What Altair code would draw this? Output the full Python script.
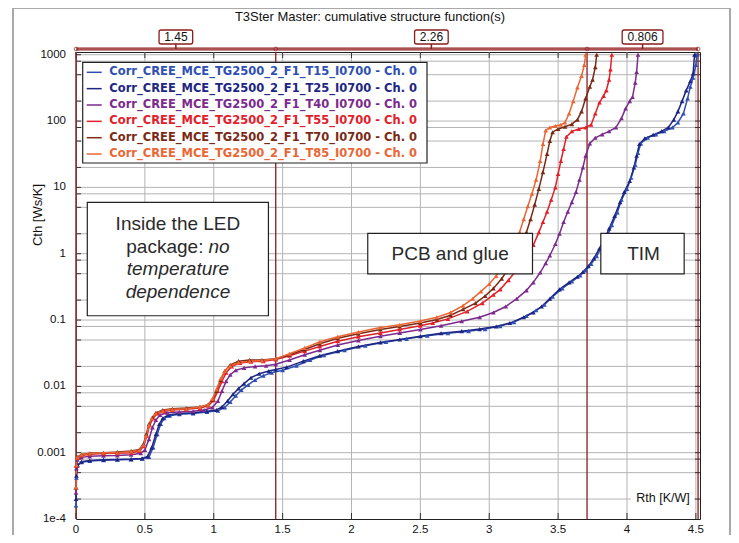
import altair as alt
import pandas as pd

# ---------------- data ----------------
series_names = [
    "Corr_CREE_MCE_TG2500_2_F1_T15_I0700 - Ch. 0",
    "Corr_CREE_MCE_TG2500_2_F1_T25_I0700 - Ch. 0",
    "Corr_CREE_MCE_TG2500_2_F1_T40_I0700 - Ch. 0",
    "Corr_CREE_MCE_TG2500_2_F1_T55_I0700 - Ch. 0",
    "Corr_CREE_MCE_TG2500_2_F1_T70_I0700 - Ch. 0",
    "Corr_CREE_MCE_TG2500_2_F1_T85_I0700 - Ch. 0",
]
series_colors = ["#2f4fb2", "#1d2682", "#7b2a8e", "#e2202a", "#7a2a14", "#ea6634"]

# (Rth [K/W], Cth [Ws/K]) pairs
t15 = [(0.0,1.6e-4),(0.003,4.2e-4),(0.01,6.3e-4),(0.04,7.2e-4),(0.1,7.5e-4),(0.2,7.7e-4),(0.3,7.8e-4),(0.4,7.9e-4),(0.48,8.1e-4),(0.53,8.6e-4),(0.56,1.2e-3),(0.59,1.9e-3),(0.615,2.7e-3),(0.64,3.3e-3),(0.68,3.6e-3),(0.75,3.8e-3),(0.85,3.9e-3),(0.95,4.1e-3),(1.03,4.3e-3),(1.08,4.8e-3),(1.12,5.8e-3),(1.16,7.2e-3),(1.2,8.8e-3),(1.25,1.05e-2),(1.3,1.25e-2),(1.36,1.45e-2),(1.42,1.6e-2),(1.5,1.75e-2),(1.6,2.05e-2),(1.7,2.5e-2),(1.8,2.95e-2),(1.95,3.5e-2),(2.1,4.1e-2),(2.25,4.65e-2),(2.4,5.2e-2),(2.55,5.8e-2),(2.7,6.3e-2),(2.85,6.8e-2),(2.97,7.3e-2),(3.08,8.1e-2),(3.18,9.3e-2),(3.27,0.115),(3.34,0.14),(3.4,0.17),(3.46,0.225),(3.53,0.3),(3.6,0.38),(3.66,0.47),(3.7,0.56),(3.74,0.7),(3.78,0.92),(3.82,1.3),(3.86,1.9),(3.89,2.7),(3.93,4.2),(3.96,6.5),(4.0,9.5),(4.03,14),(4.06,22),(4.08,33),(4.1,46),(4.15,56),(4.21,63),(4.27,70),(4.33,80),(4.37,95),(4.41,130),(4.44,220),(4.46,330),(4.48,450),(4.5,700),(4.51,1000)]
t25 = [(0.0,2.0e-4),(0.003,4.5e-4),(0.01,6.5e-4),(0.04,7.3e-4),(0.1,7.6e-4),(0.2,7.8e-4),(0.3,7.9e-4),(0.4,8.0e-4),(0.48,8.2e-4),(0.52,8.8e-4),(0.55,1.2e-3),(0.58,1.9e-3),(0.605,2.7e-3),(0.63,3.3e-3),(0.67,3.7e-3),(0.75,3.9e-3),(0.85,4.0e-3),(0.95,4.2e-3),(1.02,4.4e-3),(1.06,4.9e-3),(1.1,6.0e-3),(1.14,7.6e-3),(1.18,9.3e-3),(1.22,1.1e-2),(1.27,1.35e-2),(1.33,1.55e-2),(1.4,1.7e-2),(1.45,1.8e-2),(1.53,1.95e-2),(1.65,2.4e-2),(1.77,2.9e-2),(1.9,3.4e-2),(2.05,4.0e-2),(2.21,4.6e-2),(2.35,5.1e-2),(2.5,5.7e-2),(2.65,6.3e-2),(2.8,6.8e-2),(2.93,7.3e-2),(3.05,8.0e-2),(3.15,9.0e-2),(3.25,0.11),(3.32,0.13),(3.38,0.16),(3.44,0.21),(3.51,0.29),(3.58,0.37),(3.64,0.45),(3.68,0.53),(3.72,0.65),(3.76,0.85),(3.8,1.2),(3.84,1.7),(3.87,2.4),(3.91,3.7),(3.95,6.0),(3.98,8.5),(4.02,12.5),(4.05,20),(4.07,30),(4.09,45),(4.13,55),(4.19,62),(4.25,70),(4.3,80),(4.34,105),(4.37,140),(4.4,200),(4.43,290),(4.46,400),(4.48,520),(4.49,1000)]
t40 = [(0.0,2.5e-4),(0.003,5.8e-4),(0.01,7.8e-4),(0.04,8.5e-4),(0.1,8.8e-4),(0.2,9.0e-4),(0.3,9.1e-4),(0.4,9.3e-4),(0.47,9.8e-4),(0.5,1.1e-3),(0.53,1.6e-3),(0.555,2.4e-3),(0.58,3.1e-3),(0.61,3.7e-3),(0.66,4.0e-3),(0.75,4.1e-3),(0.85,4.2e-3),(0.93,4.4e-3),(0.99,4.8e-3),(1.03,6.0e-3),(1.06,8.5e-3),(1.09,1.2e-2),(1.12,1.5e-2),(1.16,1.75e-2),(1.22,1.9e-2),(1.3,2.0e-2),(1.38,2.05e-2),(1.45,2.15e-2),(1.55,2.5e-2),(1.66,3.0e-2),(1.77,3.5e-2),(1.9,4.2e-2),(2.05,4.9e-2),(2.21,5.7e-2),(2.35,6.4e-2),(2.5,7.2e-2),(2.65,8.2e-2),(2.8,9.6e-2),(2.93,0.11),(3.03,0.13),(3.12,0.16),(3.2,0.21),(3.27,0.28),(3.32,0.37),(3.37,0.52),(3.41,0.72),(3.44,0.94),(3.48,1.4),(3.51,2.0),(3.54,3.0),(3.57,4.3),(3.6,6.0),(3.63,8.5),(3.655,13),(3.68,20),(3.7,30),(3.73,46),(3.77,56),(3.82,63),(3.87,70),(3.92,80),(3.96,110),(3.99,155),(4.02,200),(4.04,230),(4.06,380),(4.07,550),(4.08,1000)]
t55 = [(0.0,3.0e-4),(0.003,6.3e-4),(0.01,8.3e-4),(0.04,9.1e-4),(0.1,9.5e-4),(0.2,9.7e-4),(0.3,9.8e-4),(0.4,1.0e-3),(0.46,1.06e-3),(0.49,1.25e-3),(0.515,1.8e-3),(0.535,2.6e-3),(0.56,3.3e-3),(0.59,3.9e-3),(0.64,4.2e-3),(0.7,4.4e-3),(0.8,4.5e-3),(0.9,4.7e-3),(0.96,5.1e-3),(1.0,6.2e-3),(1.03,8.5e-3),(1.06,1.2e-2),(1.09,1.6e-2),(1.13,2.0e-2),(1.19,2.25e-2),(1.27,2.35e-2),(1.36,2.4e-2),(1.45,2.55e-2),(1.55,2.9e-2),(1.66,3.4e-2),(1.77,4.0e-2),(1.9,4.8e-2),(2.05,5.6e-2),(2.21,6.4e-2),(2.35,7.2e-2),(2.5,8.2e-2),(2.59,9.0e-2),(2.7,0.104),(2.84,0.135),(2.95,0.18),(3.03,0.24),(3.08,0.29),(3.14,0.4),(3.19,0.54),(3.24,0.75),(3.28,1.0),(3.32,1.35),(3.36,2.1),(3.39,3.0),(3.42,4.3),(3.45,6.5),(3.48,10),(3.5,16),(3.52,25),(3.54,38),(3.56,58),(3.6,70),(3.65,76),(3.7,80),(3.74,88),(3.77,130),(3.8,190),(3.83,240),(3.85,290),(3.87,420),(3.88,600),(3.89,1000)]
t70 = [(0.0,3.0e-4),(0.003,6.5e-4),(0.01,8.6e-4),(0.04,9.4e-4),(0.1,9.8e-4),(0.2,1.0e-3),(0.3,1.02e-3),(0.4,1.06e-3),(0.46,1.12e-3),(0.49,1.35e-3),(0.51,1.9e-3),(0.53,2.7e-3),(0.555,3.4e-3),(0.58,4.0e-3),(0.63,4.4e-3),(0.7,4.6e-3),(0.8,4.7e-3),(0.9,4.9e-3),(0.96,5.3e-3),(0.99,6.3e-3),(1.02,8.5e-3),(1.05,1.25e-2),(1.08,1.7e-2),(1.12,2.1e-2),(1.18,2.4e-2),(1.26,2.5e-2),(1.35,2.5e-2),(1.45,2.6e-2),(1.55,3.0e-2),(1.66,3.6e-2),(1.77,4.4e-2),(1.9,5.3e-2),(2.05,6.2e-2),(2.21,7.2e-2),(2.35,8.0e-2),(2.5,9.0e-2),(2.62,0.102),(2.72,0.118),(2.81,0.145),(2.9,0.18),(2.97,0.23),(3.03,0.3),(3.09,0.42),(3.14,0.6),(3.19,0.9),(3.23,1.35),(3.27,2.1),(3.3,3.3),(3.33,5.5),(3.36,9.5),(3.39,17),(3.42,32),(3.44,50),(3.46,68),(3.5,76),(3.55,82),(3.6,90),(3.64,105),(3.67,140),(3.7,220),(3.73,330),(3.75,420),(3.77,650),(3.78,1000)]
t85 = [(0.0,3.0e-4),(0.003,6.5e-4),(0.01,8.5e-4),(0.04,9.3e-4),(0.1,9.7e-4),(0.2,1.0e-3),(0.3,1.0e-3),(0.4,1.04e-3),(0.46,1.1e-3),(0.49,1.3e-3),(0.51,1.8e-3),(0.53,2.6e-3),(0.55,3.3e-3),(0.58,3.9e-3),(0.63,4.3e-3),(0.7,4.5e-3),(0.8,4.6e-3),(0.9,4.9e-3),(0.96,5.3e-3),(0.99,6.5e-3),(1.02,9.0e-3),(1.05,1.3e-2),(1.08,1.7e-2),(1.12,2.05e-2),(1.18,2.3e-2),(1.26,2.4e-2),(1.35,2.45e-2),(1.45,2.6e-2),(1.55,3.1e-2),(1.66,3.8e-2),(1.77,4.7e-2),(1.9,5.6e-2),(2.05,6.6e-2),(2.21,7.7e-2),(2.35,8.5e-2),(2.5,9.7e-2),(2.62,0.11),(2.72,0.13),(2.81,0.165),(2.88,0.21),(2.94,0.27),(3.0,0.35),(3.05,0.46),(3.1,0.65),(3.15,0.95),(3.19,1.4),(3.22,2.1),(3.25,3.3),(3.28,5.2),(3.31,8.0),(3.34,13),(3.37,25),(3.39,45),(3.41,72),(3.44,80),(3.48,84),(3.52,88),(3.55,95),(3.58,130),(3.61,200),(3.64,320),(3.67,480),(3.69,700),(3.70,1000)]

x_ticks = [0, 0.5, 1, 1.5, 2, 2.5, 3, 3.5, 4, 4.5]
x_tick_labels = ["0", "0.5", "1", "1.5", "2", "2.5", "3", "3.5", "4", "4.5"]
y_ticks = [1e-4, 1e-3, 1e-2, 1e-1, 1, 10, 100, 1000]
y_tick_labels = ["1e-4", "0.001", "0.01", "0.1", "1", "10", "100", "1000"]
y_grid = [2e-4, 5e-4, 8e-4, 1e-3, 2e-3, 5e-3, 8e-3, 1e-2, 2e-2, 5e-2, 8e-2, 0.1, 0.2, 0.5, 0.8,
          1, 2, 5, 8, 10, 20, 50, 80, 100, 200, 500, 800, 1000]
marker_rth = [0.0, 1.45, 3.71, 4.516]
bracket_labels = ["1.45", "2.26", "0.806"]

# ---------------- tables ----------------
rows = []
for name, pts in zip(series_names, [t15, t25, t40, t55, t70, t85]):
    for i, (r, c) in enumerate(pts):
        rows.append({"series": name, "rth": r, "cth": c, "i": i})
df = pd.DataFrame(rows)

brk = pd.DataFrame({
    "start": marker_rth[:-1],
    "end": marker_rth[1:],
    "label": bracket_labels,
})
brk["mid"] = (brk["start"] + brk["end"]) / 2
brk["hw"] = [0.122, 0.122, 0.148]

legend_df = pd.DataFrame({"series": series_names, "k": list(range(len(series_names)))})
xlab_df = pd.DataFrame({"v": x_ticks, "t": x_tick_labels})
ylab_df = pd.DataFrame({"v": y_ticks, "t": y_tick_labels})
ygrid_df = pd.DataFrame({"g": y_grid})
xgrid_df = pd.DataFrame({"g": x_ticks})

DARKRED = "#8b1c1c"
FONT = "Liberation Sans"

xscale = alt.Scale(domain=[0, 4.53], nice=False, zero=False)
yscale = alt.Scale(type="log", domain=[1e-4, 1100], nice=False)
cscale = alt.Scale(domain=series_names, range=series_colors)

def X(f):
    return alt.X(f, type="quantitative", scale=xscale, axis=None)

def Y(f):
    return alt.Y(f, type="quantitative", scale=yscale, axis=None)

one = alt.Data(values=[{"a": 1}])

# outer window frame
frame = alt.Chart(one).mark_rect(fill=None, stroke="#a9a9a9", strokeWidth=2).encode(
    x=alt.value(-63), x2=alt.value(654), y=alt.value(-44), y2=alt.value(600))

# grid
vgrid = alt.Chart(xgrid_df).mark_rule(color="#b4b4b4", strokeWidth=1).encode(x=X("g"))
hgrid = alt.Chart(ygrid_df).mark_rule(color="#b4b4b4", strokeWidth=1).encode(y=Y("g"))

# inside ticks on all four edges
tick_l = alt.Chart(ygrid_df).mark_rule(color="#333", strokeWidth=1).encode(
    y=Y("g"), x=alt.value(0), x2=alt.value(5))
tick_r = alt.Chart(ygrid_df).mark_rule(color="#333", strokeWidth=1).encode(
    y=Y("g"), x=alt.value(619), x2=alt.value(624))
tick_b = alt.Chart(xgrid_df).mark_rule(color="#333", strokeWidth=1).encode(
    x=X("g"), y=alt.value(461), y2=alt.value(467))
tick_t = alt.Chart(xgrid_df).mark_rule(color="#333", strokeWidth=1).encode(
    x=X("g"), y=alt.value(0), y2=alt.value(6))

# tick labels
xlabels = alt.Chart(xlab_df).mark_text(font=FONT, fontSize=11.5, color="#111", baseline="middle").encode(
    x=X("v"), y=alt.value(478), text="t:N")
ylabels = alt.Chart(ylab_df).mark_text(font=FONT, fontSize=11.5, color="#111", baseline="middle",
                                       align="right").encode(
    y=Y("v"), x=alt.value(-10), text="t:N")

vred = alt.Chart(pd.DataFrame({"m": marker_rth})).mark_rule(color=DARKRED, strokeWidth=1.3).encode(x=X("m"))

# top bracket
brk_line = alt.Chart(brk).mark_rule(color=DARKRED, strokeWidth=3).encode(
    x=X("start"), x2="end", y=alt.value(-3))
brk_line2 = alt.Chart(brk).mark_rule(color="#d8a6a6", strokeWidth=0.8).encode(
    x=X("start"), x2="end", y=alt.value(-3))
brk_ends = alt.Chart(pd.DataFrame({"m": marker_rth})).mark_point(
    shape="circle", size=14, filled=False, color=DARKRED, strokeWidth=1).encode(x=X("m"), y=alt.value(-3))
brk_conn = alt.Chart(brk).mark_rule(color=DARKRED, strokeWidth=1.5).encode(
    x=X("mid"), y=alt.value(-8), y2=alt.value(-3))
brk_box = alt.Chart(brk).transform_calculate(
    x1="datum.mid - datum.hw", x2="datum.mid + datum.hw").mark_rect(
    fill="white", stroke=DARKRED, strokeWidth=1.3, cornerRadius=2).encode(
    x=X("x1:Q"), x2="x2:Q", y=alt.value(-22), y2=alt.value(-8))
brk_text = alt.Chart(brk).mark_text(font=FONT, fontSize=12, color="#111", baseline="middle").encode(
    x=X("mid"), y=alt.value(-15), text="label:N")

# curves
lines = alt.Chart(df).mark_line(strokeWidth=1.5).encode(
    x=X("rth"), y=Y("cth"), color=alt.Color("series:N", scale=cscale, legend=None),
    detail="series:N", order="i:Q")
pts = alt.Chart(df).mark_point(shape="triangle-up", size=22, filled=True, opacity=1).encode(
    x=X("rth"), y=Y("cth"), color=alt.Color("series:N", scale=cscale, legend=None))

# custom legend
leg_box = alt.Chart(one).mark_rect(fill="white", stroke="#222", strokeWidth=1.2).encode(
    x=alt.value(6.7), x2=alt.value(351), y=alt.value(10.3), y2=alt.value(111))
leg_base = alt.Chart(legend_df).transform_calculate(ly="20.3 + datum.k * 16.35")
leg_lines = leg_base.mark_rule(strokeWidth=1.5).encode(
    x=alt.value(10.7), x2=alt.value(25.7), y=alt.Y("ly:Q", scale=None, axis=None),
    color=alt.Color("series:N", scale=cscale, legend=None))
leg_text = leg_base.mark_text(align="left", baseline="middle", font="DejaVu Sans", fontSize=11.5,
                              fontWeight="bold").encode(
    x=alt.value(33.3), y=alt.Y("ly:Q", scale=None, axis=None), text="series:N",
    color=alt.Color("series:N", scale=cscale, legend=None))

# annotation boxes (data coordinates)
ann_boxes = pd.DataFrame({
    "x1": [0.082, 2.118, 3.81], "x2": [1.397, 3.314, 4.415],
    "y1": [0.116, 0.498, 0.498], "y2": [5.93, 2.02, 2.02]})
ann_rect = alt.Chart(ann_boxes).mark_rect(fill="white", stroke="#222", strokeWidth=1.2).encode(
    x=X("x1"), x2="x2", y=Y("y1"), y2="y2")

ann_normal = pd.DataFrame({"t": ["Inside the LED", "PCB and glue", "TIM"],
                           "x": [0.74, 2.716, 4.12], "y": [2.85, 1.0, 1.0]})
ann_italic = pd.DataFrame({"t": ["temperature", "dependence"], "x": [0.74, 0.74], "y": [0.593, 0.265]})
t_norm = alt.Chart(ann_normal).mark_text(font=FONT, fontSize=19, color="#2a2a2a", baseline="middle").encode(
    x=X("x"), y=Y("y"), text="t:N")
t_ital = alt.Chart(ann_italic).mark_text(font=FONT, fontSize=19, fontStyle="italic", color="#2a2a2a",
                                         baseline="middle").encode(x=X("x"), y=Y("y"), text="t:N")
t_pkg = alt.Chart(pd.DataFrame({"t": ["package:"], "x": [0.925], "y": [1.28]})).mark_text(
    font=FONT, fontSize=19, color="#2a2a2a", baseline="middle", align="right").encode(
    x=X("x"), y=Y("y"), text="t:N")
t_no = alt.Chart(pd.DataFrame({"t": ["no"], "x": [0.962], "y": [1.28]})).mark_text(
    font=FONT, fontSize=19, fontStyle="italic", color="#2a2a2a", baseline="middle", align="left").encode(
    x=X("x"), y=Y("y"), text="t:N")

# axis titles and chart title
rth_bg = alt.Chart(one).mark_rect(fill="white").encode(
    x=alt.value(555), x2=alt.value(618), y=alt.value(437), y2=alt.value(456))
rth_lbl = alt.Chart(one).mark_text(font=FONT, fontSize=12.5, color="#111", baseline="middle").encode(
    x=alt.value(587), y=alt.value(446), text=alt.value("Rth  [K/W]"))
cth_lbl = alt.Chart(one).mark_text(font=FONT, fontSize=13, color="#111", baseline="middle", angle=270).encode(
    x=alt.value(-38), y=alt.value(163), text=alt.value("Cth  [Ws/K]"))
title = alt.Chart(one).mark_text(font=FONT, fontSize=13, color="#111", baseline="middle").encode(
    x=alt.value(294), y=alt.value(-35), text=alt.value("T3Ster Master: cumulative structure function(s)"))

chart = alt.layer(
    frame, vgrid, hgrid, tick_l, tick_r, tick_b, tick_t, vred, rth_bg, rth_lbl, lines, pts,
    leg_box, leg_lines, leg_text,
    ann_rect, t_norm, t_ital, t_pkg, t_no,
    brk_line, brk_line2, brk_ends, brk_conn, brk_box, brk_text,
    xlabels, ylabels, cth_lbl, title,
).properties(
    width=624, height=467,
    padding={"left": 68, "top": 44, "right": 31, "bottom": 16},
    autosize=alt.AutoSizeParams(type="none"),
    background="white",
).configure_view(stroke="#222", strokeWidth=1)

chart.save("out.html", embed_options={"renderer": "svg", "actions": False})
